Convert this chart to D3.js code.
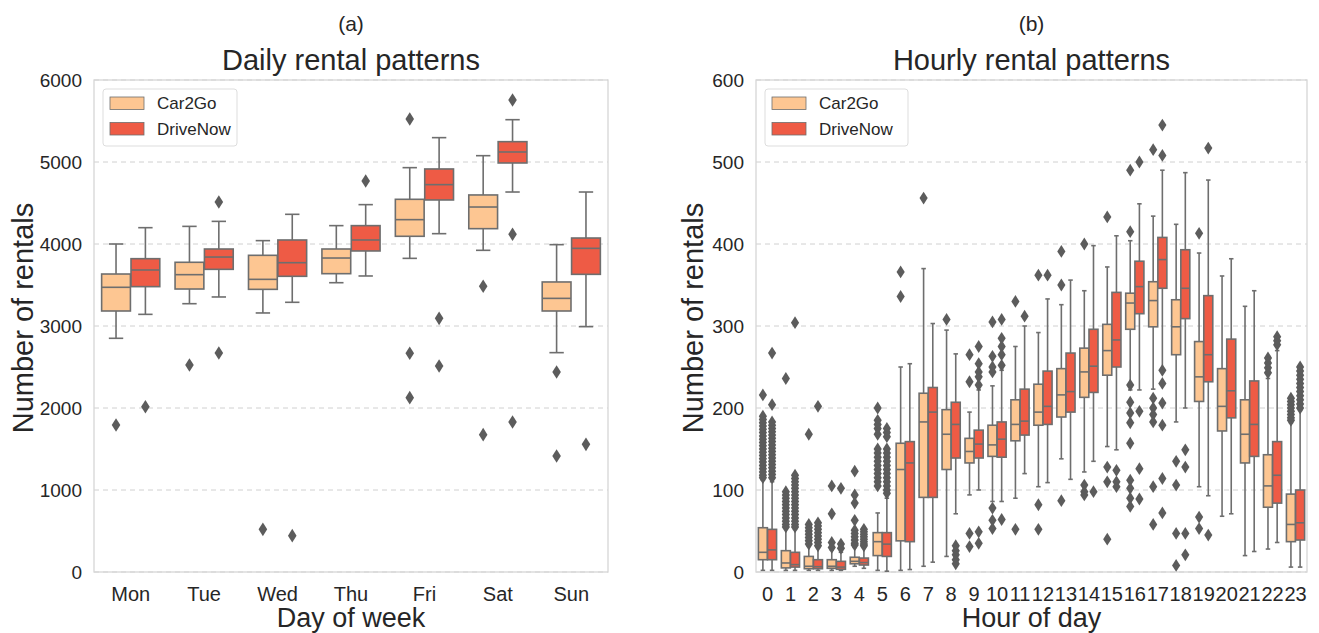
<!DOCTYPE html>
<html>
<head>
  <meta charset="utf-8">
  <title>Rental patterns</title>
  <script src="https://d3js.org/d3.v7.min.js"></script>
  <style>
    body { margin: 0; background: #fff; }
    text { font-family: "Liberation Sans", Arial, sans-serif; fill: #262626; }
  </style>
</head>
<body>
  <div id="my_dataviz"></div>
  <script>
  // ---- data: [whisker low, q1, median, q3, whisker high]
  var days = ["Mon", "Tue", "Wed", "Thu", "Fri", "Sat", "Sun"];
  var hours = d3.range(24).map(String);
  var companies = ["Car2Go", "DriveNow"];
  var colors = ["#FDC692", "#EE5B45"];

  var dailyCar2Go = [
    [2850, 3183, 3472, 3634, 4000], [3272, 3451, 3626, 3777, 4215], [3159, 3447, 3569, 3862, 4041],
    [3528, 3638, 3829, 3939, 4224], [3825, 4094, 4297, 4545, 4931], [3923, 4187, 4451, 4598, 5077],
    [2675, 3183, 3337, 3537, 3992]
  ];
  var dailyDriveNow = [
    [3142, 3480, 3683, 3821, 4199], [3354, 3691, 3841, 3939, 4276], [3289, 3606, 3772, 4049, 4362],
    [3610, 3915, 4049, 4224, 4480], [4126, 4537, 4724, 4915, 5297], [4634, 4988, 5122, 5248, 5516],
    [2992, 3630, 3947, 4073, 4634]
  ];
  var dailyOutCar2Go = [[1793], [2524], [520], [], [5524, 2667, 2126], [3484, 1675], [2439, 1415]];
  var dailyOutDriveNow = [[2016], [4512, 2671], [443], [4768], [3093, 2512], [5756, 4118, 1829], [1557]];

  var hourlyCar2Go = [
    [2, 15, 24, 54, 112], [2, 5, 11, 26, 54], [2, 4, 7, 19, 32], [2, 4.5, 7, 15, 27],
    [7, 10, 13, 18, 30], [2, 20, 37, 48, 72], [2, 38, 125, 157, 250], [7, 91, 183, 218, 370],
    [19, 125, 168, 198, 295], [94, 133, 147, 163, 195], [86, 141, 155, 179, 227], [90, 160, 180, 210, 275],
    [104, 179, 195, 229, 292], [138, 189, 216, 248, 326], [122, 213, 244, 273, 343], [153, 240, 270, 302, 372],
    [222, 296, 328, 340, 404], [223, 299, 331, 354, 434], [183, 265, 299, 332, 424], [104, 208, 238, 281, 389],
    [68, 172, 202, 248, 361], [20, 133, 168, 210, 324], [28, 79, 105, 143, 236], [6, 37, 58, 95, 182]
  ];
  var hourlyDriveNow = [
    [2, 15, 27, 52, 110], [2, 6, 9, 24, 52], [2, 4, 6.5, 15, 30], [2, 3.3, 6, 13, 24],
    [4.5, 8.5, 11.5, 17, 30], [1, 19, 34, 48, 90], [3, 37, 133, 159, 254], [12, 91, 195, 225, 303],
    [71, 139, 180, 207, 266], [100, 139, 156, 173, 222], [86, 140, 162, 183, 246], [120, 167, 184, 223, 300],
    [109, 180, 202, 245, 333], [113, 195, 220, 267, 356], [135, 219, 251, 296, 398], [149, 250, 283, 341, 410],
    [222, 315, 348, 379, 449], [247, 346, 381, 408, 490], [200, 309, 346, 393, 487], [93, 232, 265, 337, 478],
    [71, 188, 221, 284, 382], [25, 141, 180, 233, 343], [36, 84, 118, 159, 270], [6, 39, 60, 100, 197]
  ];
  var hourlyOutCar2Go = [
    [216, 190, 186, 182, 178, 174, 170, 166, 162, 158, 154, 150, 146, 142, 138, 134, 130, 126, 122, 118, 115],
    [236, 98, 94, 90, 86, 82, 78, 74, 70, 66, 62, 58, 55],
    [168, 58, 54, 50, 46, 42, 38, 34],
    [105, 71, 36, 30],
    [123, 94, 84, 63, 51, 47, 43, 39, 35, 33],
    [200, 185, 180, 175, 168, 150, 145, 140, 135, 130, 125, 120, 115, 110, 105],
    [366, 336], [456], [308], [265, 232, 47, 31], [305, 263, 250, 244, 78, 63, 53], [330, 52],
    [362, 82, 52], [391, 350, 87], [400, 106, 98, 94], [433, 128, 110, 40],
    [490, 415, 228, 207, 194, 182, 157, 112, 102, 90, 80],
    [515, 212, 200, 192, 183, 104, 58],
    [135, 106, 47, 8], [413, 67, 53], [], [], [261, 255, 249, 243],
    [212, 208, 204, 200, 196, 192, 188, 185]
  ];
  var hourlyOutDriveNow = [
    [267, 204, 183, 179, 175, 171, 167, 163, 159, 155, 151, 147, 143, 139, 135, 131, 127, 123, 119, 115],
    [304, 118, 114, 110, 106, 102, 98, 94, 90, 86, 82, 78, 74, 70, 66, 62, 58, 55],
    [202, 60, 56, 52, 48, 44, 40, 36, 32],
    [102, 34, 29],
    [52, 49, 46, 43, 40, 37, 34, 32],
    [175, 170, 165, 150, 145, 140, 135, 130, 125, 120, 115, 110, 105, 100, 96],
    [], [], [32, 26, 21, 15, 10], [275, 254, 244, 238, 228, 49, 35], [308, 285, 275, 265, 252, 64], [312],
    [362], [], [98], [124, 110, 104], [500, 196, 126, 89], [545, 508, 246, 230, 206, 179, 114, 72],
    [149, 128, 47, 21], [517, 45], [], [], [287, 282, 277],
    [250, 245, 240, 235, 230, 225, 220, 215, 210, 205, 200]
  ];
  var dailyTicks = [0, 1000, 2000, 3000, 4000, 5000, 6000];
  var hourlyTicks = [0, 100, 200, 300, 400, 500, 600];

  var edge = "#6e6e6e";

  var svg = d3.select("#my_dataviz")
    .append("svg")
      .attr("width", 1319)
      .attr("height", 633);

  function panel(opt) {
    var x = d3.scaleBand().domain(opt.cats).range([opt.left, opt.right]);
    var y = d3.scaleLinear().domain(opt.domain).range([572, 80]);
    var g = svg.append("g");

    // grid
    g.selectAll(".grid").data(opt.ticks).enter().append("line")
      .attr("x1", opt.left).attr("x2", opt.right)
      .attr("y1", function(d) { return y(d); }).attr("y2", function(d) { return y(d); })
      .attr("stroke", "#d0d0d0").attr("stroke-width", 1).attr("stroke-dasharray", "5,4");

    // frame
    g.append("rect")
      .attr("x", opt.left).attr("y", 80)
      .attr("width", opt.right - opt.left).attr("height", 492)
      .attr("fill", "none").attr("stroke", "#d6d6d6").attr("stroke-width", 1.3);

    // y ticks
    g.selectAll(".ytick").data(opt.ticks).enter().append("text")
      .attr("x", opt.left - 12)
      .attr("y", function(d) { return y(d); })
      .attr("dy", "0.35em")
      .attr("text-anchor", "end")
      .style("font-size", "19px")
      .text(function(d) { return d; });

    // x ticks
    g.selectAll(".xtick").data(opt.cats).enter().append("text")
      .attr("x", function(d) { return x(d) + x.bandwidth() / 2; })
      .attr("y", 601)
      .attr("text-anchor", "middle")
      .style("font-size", "20px")
      .text(function(d) { return d; });

    var bw = x.bandwidth() * 0.4;
    var series = [opt.a, opt.b];
    var outs = [opt.outA, opt.outB];
    series.forEach(function(s, k) {
      s.forEach(function(st, i) {
        var cx = x(opt.cats[i]) + x.bandwidth() / 2 + (k === 0 ? -bw / 2 : bw / 2);
        var w = bw * 0.98;
        // whiskers
        g.append("line").attr("x1", cx).attr("x2", cx).attr("y1", y(st[0])).attr("y2", y(st[1]))
          .attr("stroke", edge).attr("stroke-width", 1.6);
        g.append("line").attr("x1", cx).attr("x2", cx).attr("y1", y(st[3])).attr("y2", y(st[4]))
          .attr("stroke", edge).attr("stroke-width", 1.6);
        [st[0], st[4]].forEach(function(v) {
          g.append("line").attr("x1", cx - w / 4).attr("x2", cx + w / 4).attr("y1", y(v)).attr("y2", y(v))
            .attr("stroke", edge).attr("stroke-width", 1.6);
        });
        // box
        g.append("rect")
          .attr("x", cx - w / 2).attr("width", w)
          .attr("y", y(st[3])).attr("height", Math.max(0.5, y(st[1]) - y(st[3])))
          .attr("fill", colors[k]).attr("stroke", edge).attr("stroke-width", 1.6);
        g.append("line").attr("x1", cx - w / 2).attr("x2", cx + w / 2)
          .attr("y1", y(st[2])).attr("y2", y(st[2]))
          .attr("stroke", edge).attr("stroke-width", 1.6);
        // outliers
        g.selectAll(null).data(outs[k][i]).enter().append("path")
          .attr("d", "M0,-" + opt.dh + "L" + opt.dw + ",0L0," + opt.dh + "L-" + opt.dw + ",0Z")
          .attr("transform", function(v) { return "translate(" + cx + "," + y(v) + ")"; })
          .attr("fill", "#5c5c5c");
      });
    });

    var mid = (opt.left + opt.right) / 2;
    svg.append("text").attr("x", mid).attr("y", 31).attr("text-anchor", "middle")
      .style("font-size", "21px").text(opt.tag);
    svg.append("text").attr("x", mid).attr("y", 70).attr("text-anchor", "middle")
      .style("font-size", "29px").text(opt.title);
    svg.append("text").attr("x", mid).attr("y", 627).attr("text-anchor", "middle")
      .style("font-size", "27px").text(opt.xlabel);
    svg.append("text")
      .attr("transform", "translate(" + (opt.left - opt.ylabOff) + ",318) rotate(-90)")
      .attr("text-anchor", "middle")
      .style("font-size", "29px").text("Number of rentals");

    // legend
    var lg = svg.append("g").attr("transform", "translate(" + (opt.left + 9) + ",89)");
    lg.append("rect").attr("width", opt.legW).attr("height", 57).attr("rx", 3)
      .attr("fill", "#fff").attr("fill-opacity", 0.8).attr("stroke", "#dddddd");
    companies.forEach(function(c, k) {
      lg.append("rect").attr("x", 7).attr("y", 8 + k * 25.5).attr("width", 34).attr("height", 12.5)
        .attr("fill", colors[k]).attr("stroke", edge).attr("stroke-width", 0.8);
      lg.append("text").attr("x", 54).attr("y", 14.5 + k * 25.5).attr("dy", "0.35em")
        .style("font-size", "17px").text(c);
    });
  }

  panel({
    cats: days, domain: [0, 6000], ticks: dailyTicks, left: 94, right: 608,
    a: dailyCar2Go, b: dailyDriveNow, outA: dailyOutCar2Go, outB: dailyOutDriveNow,
    dw: 4.3, dh: 6.8, tag: "(a)", title: "Daily rental patterns", xlabel: "Day of week", ylabOff: 61, legW: 134
  });
  panel({
    cats: hours, domain: [0, 600], ticks: hourlyTicks, left: 756, right: 1307,
    a: hourlyCar2Go, b: hourlyDriveNow, outA: hourlyOutCar2Go, outB: hourlyOutDriveNow,
    dw: 4.1, dh: 6.4, tag: "(b)", title: "Hourly rental patterns", xlabel: "Hour of day", ylabOff: 53, legW: 143
  });
  </script>
</body>
</html>
